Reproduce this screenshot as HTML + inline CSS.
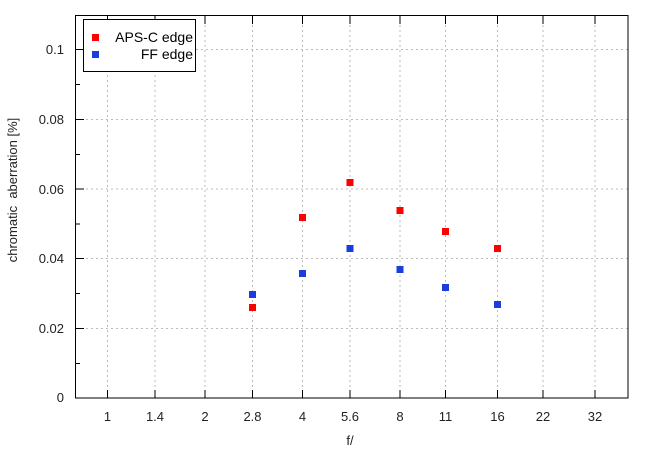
<!DOCTYPE html>
<html><head><style>body{margin:0;background:#fff}</style></head><body>
<svg width="650" height="450" xmlns="http://www.w3.org/2000/svg" font-family="Liberation Sans, sans-serif" font-size="13" fill="#000">
<rect width="650" height="450" fill="#fff"/>
<g stroke="#bbb" stroke-dasharray="2,3" stroke-width="1">
<line x1="107.5" y1="15" x2="107.5" y2="398"/><line x1="155" y1="15" x2="155" y2="398"/><line x1="205" y1="15" x2="205" y2="398"/><line x1="252.5" y1="15" x2="252.5" y2="398"/><line x1="302.5" y1="15" x2="302.5" y2="398"/><line x1="350" y1="15" x2="350" y2="398"/><line x1="400" y1="15" x2="400" y2="398"/><line x1="445.5" y1="15" x2="445.5" y2="398"/><line x1="497.5" y1="15" x2="497.5" y2="398"/><line x1="543" y1="15" x2="543" y2="398"/><line x1="595" y1="15" x2="595" y2="398"/>
<line x1="76" y1="328.5" x2="628" y2="328.5"/><line x1="76" y1="258.5" x2="628" y2="258.5"/><line x1="76" y1="189" x2="628" y2="189"/><line x1="76" y1="119.5" x2="628" y2="119.5"/><line x1="76" y1="49.5" x2="628" y2="49.5"/>
</g>
<g stroke="#000" stroke-width="1">
<rect x="75.5" y="15.5" width="552.5" height="382.5" fill="none"/>
<line x1="76" y1="328.5" x2="84" y2="328.5"/><line x1="76" y1="258.5" x2="84" y2="258.5"/><line x1="76" y1="189" x2="84" y2="189"/><line x1="76" y1="119.5" x2="84" y2="119.5"/><line x1="76" y1="49.5" x2="84" y2="49.5"/>
<line x1="76" y1="363.5" x2="80" y2="363.5"/><line x1="76" y1="293.5" x2="80" y2="293.5"/><line x1="76" y1="224" x2="80" y2="224"/><line x1="76" y1="154.5" x2="80" y2="154.5"/><line x1="76" y1="84.5" x2="80" y2="84.5"/>
<line x1="107.5" y1="398" x2="107.5" y2="390"/><line x1="155" y1="398" x2="155" y2="390"/><line x1="205" y1="398" x2="205" y2="390"/><line x1="252.5" y1="398" x2="252.5" y2="390"/><line x1="302.5" y1="398" x2="302.5" y2="390"/><line x1="350" y1="398" x2="350" y2="390"/><line x1="400" y1="398" x2="400" y2="390"/><line x1="445.5" y1="398" x2="445.5" y2="390"/><line x1="497.5" y1="398" x2="497.5" y2="390"/><line x1="543" y1="398" x2="543" y2="390"/><line x1="595" y1="398" x2="595" y2="390"/>
<line x1="107.5" y1="16" x2="107.5" y2="24"/><line x1="155" y1="16" x2="155" y2="24"/><line x1="205" y1="16" x2="205" y2="24"/><line x1="252.5" y1="16" x2="252.5" y2="24"/><line x1="302.5" y1="16" x2="302.5" y2="24"/><line x1="350" y1="16" x2="350" y2="24"/><line x1="400" y1="16" x2="400" y2="24"/><line x1="445.5" y1="16" x2="445.5" y2="24"/><line x1="497.5" y1="16" x2="497.5" y2="24"/><line x1="543" y1="16" x2="543" y2="24"/><line x1="595" y1="16" x2="595" y2="24"/>
</g>
<g text-anchor="end" fill="#222">
<text x="64" y="402">0</text><text x="64" y="333">0.02</text><text x="64" y="263">0.04</text><text x="64" y="194">0.06</text><text x="64" y="124">0.08</text><text x="64" y="54">0.1</text>
</g>
<g text-anchor="middle" fill="#222">
<text x="107.5" y="421">1</text><text x="155" y="421">1.4</text><text x="205" y="421">2</text><text x="252.5" y="421">2.8</text><text x="302.5" y="421">4</text><text x="350" y="421">5.6</text><text x="400" y="421">8</text><text x="445.5" y="421">11</text><text x="497.5" y="421">16</text><text x="543" y="421">22</text><text x="595" y="421">32</text>
<text x="350" y="445">f/</text>
<text transform="translate(17,190) rotate(-90)" xml:space="preserve">chromatic  aberration [%]</text>
</g>
<g fill="#f00">
<rect x="249" y="304" width="7" height="7"/><rect x="299" y="214" width="7" height="7"/><rect x="346.5" y="179" width="7" height="7"/><rect x="396.5" y="207" width="7" height="7"/><rect x="442" y="228" width="7" height="7"/><rect x="494" y="245" width="7" height="7"/>
</g>
<g fill="#1a3de0">
<rect x="249" y="291" width="7" height="7"/><rect x="299" y="270" width="7" height="7"/><rect x="346.5" y="245" width="7" height="7"/><rect x="396.5" y="266" width="7" height="7"/><rect x="442" y="284" width="7" height="7"/><rect x="494" y="301" width="7" height="7"/>
</g>
<rect x="83.5" y="19.5" width="112" height="52" fill="#fff" stroke="#000"/>
<rect x="92" y="34" width="7" height="7" fill="#f00"/>
<rect x="92" y="51" width="7" height="7" fill="#1a3de0"/>
<text x="193" y="42" text-anchor="end" font-size="14">APS-C edge</text>
<text x="193" y="59" text-anchor="end" font-size="14">FF edge</text>
</svg>
</body></html>
